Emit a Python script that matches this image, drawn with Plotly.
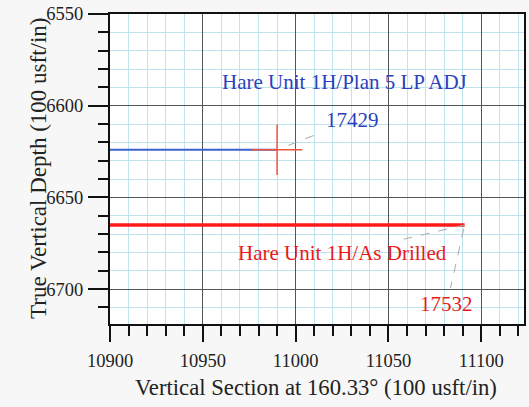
import plotly.graph_objects as go

# ---- data ----
plan_x = [10900, 10990]
plan_y = [6624, 6624]
plan_md = "17429"
plan_name = "Hare Unit 1H/Plan 5 LP ADJ"

drill_x = [10900, 11091]
drill_y = [6665, 6665]
drill_md = "17532"
drill_name = "Hare Unit 1H/As Drilled"

x_ticks = [10900, 10950, 11000, 11050, 11100]
y_ticks = [6550, 6600, 6650, 6700]
x_range = [10900, 11123]
y_range = [6719, 6550]

FONT = "Liberation Serif"
BLUE_TXT = "#2b3fc0"
RED_TXT = "#e81a1a"
LEADER = "#aaaaaa"

W, H = 529, 407
L, R, T, B = 110, 5, 14, 83
PW, PH = W - L - R, H - T - B

fig = go.Figure()

fig.add_trace(go.Scatter(x=plan_x, y=plan_y, mode="lines",
                         line=dict(color="#3d62d0", width=2), hoverinfo="skip"))
fig.add_trace(go.Scatter(x=[plan_x[-1]], y=[plan_y[-1]], mode="markers",
                         marker=dict(symbol="cross-thin-open", size=36,
                                     line=dict(color="#f28080", width=1.5)),
                         hoverinfo="skip"))
fig.add_trace(go.Scatter(x=drill_x, y=drill_y, mode="lines",
                         line=dict(color="#ff1a1a", width=3.5), hoverinfo="skip"))

# label positions (layout)
plan_name_pos = (11026.5, 6587)
plan_md_pos = (11030.5, 6608)
drill_name_pos = (11025.5, 6680.5)
drill_md_pos = (11081.5, 6708)

def leader(p0, p1, f0, f1):
    x0 = p0[0] + (p1[0] - p0[0]) * f0
    y0 = p0[1] + (p1[1] - p0[1]) * f0
    x1 = p0[0] + (p1[0] - p0[0]) * f1
    y1 = p0[1] + (p1[1] - p0[1]) * f1
    fig.add_shape(type="line", x0=x0, y0=y0, x1=x1, y1=y1, xref="x", yref="y",
                  line=dict(color=LEADER, width=1, dash="dash"))

leader((plan_x[-1], plan_y[-1]), plan_md_pos, 0.15, 0.55)
leader((drill_x[-1], drill_y[-1]), drill_name_pos, 0.0, 0.5)
leader((drill_x[-1], drill_y[-1]), drill_md_pos, 0.05, 0.8)

for txt, pos, col in [(plan_name, plan_name_pos, BLUE_TXT), (plan_md, plan_md_pos, BLUE_TXT),
                      (drill_name, drill_name_pos, RED_TXT), (drill_md, drill_md_pos, RED_TXT)]:
    fig.add_annotation(x=pos[0], y=pos[1], text=txt, showarrow=False,
                       font=dict(family=FONT, size=21, color=col),
                       xanchor="center", yanchor="middle")

# axis titles (screen coords -> paper)
fig.add_annotation(xref="paper", yref="paper", x=(38 - L) / PW, y=1 - (168 - T) / PH,
                   text="True Vertical Depth (100 usft/in)", textangle=-90, showarrow=False,
                   font=dict(family=FONT, size=23, color="#222"), xanchor="center", yanchor="middle")
fig.add_annotation(xref="paper", yref="paper", x=(316 - L) / PW, y=-(387 - (H - B)) / PH,
                   text="Vertical Section at 160.33° (100 usft/in)", showarrow=False,
                   font=dict(family=FONT, size=22.7, color="#222"), xanchor="center", yanchor="middle")

fig.update_xaxes(range=x_range, tickvals=x_ticks, ticktext=[str(v) for v in x_ticks],
                 automargin=False, ticklabeloverflow="allow",
                 showgrid=True, gridcolor="#555555", gridwidth=1,
                 ticks="outside", ticklen=16, tickwidth=2, tickcolor="#111",
                 showline=True, linecolor="#111", linewidth=2, mirror=True,
                 tickfont=dict(family=FONT, size=18.5, color="#222"), ticklabelstandoff=3,
                 zeroline=False,
                 minor=dict(dtick=10, tick0=10900, showgrid=True, gridcolor="#bfe4f0", gridwidth=1,
                            ticks="outside", ticklen=10, tickwidth=1.5, tickcolor="#111"))
fig.update_yaxes(range=y_range, tickvals=y_ticks, ticktext=[str(v) for v in y_ticks],
                 automargin=False, ticklabeloverflow="allow",
                 showgrid=True, gridcolor="#555555", gridwidth=1,
                 ticks="outside", ticklen=20, tickwidth=2, tickcolor="#111",
                 showline=True, linecolor="#111", linewidth=2, mirror=True,
                 tickfont=dict(family=FONT, size=18.5, color="#222"), ticklabelstandoff=1,
                 zeroline=False,
                 minor=dict(dtick=10, tick0=6550, showgrid=True, gridcolor="#bfe4f0", gridwidth=1,
                            ticks="outside", ticklen=10, tickwidth=1.5, tickcolor="#111"))

fig.update_layout(width=W, height=H, margin=dict(l=L, r=R, t=T, b=B),
                  paper_bgcolor="#f7f7f7", plot_bgcolor="white", showlegend=False)

fig.write_html("out.html", config={"displayModeBar": False},
               post_script="document.body.style.margin='0';document.body.style.overflow='hidden';")
